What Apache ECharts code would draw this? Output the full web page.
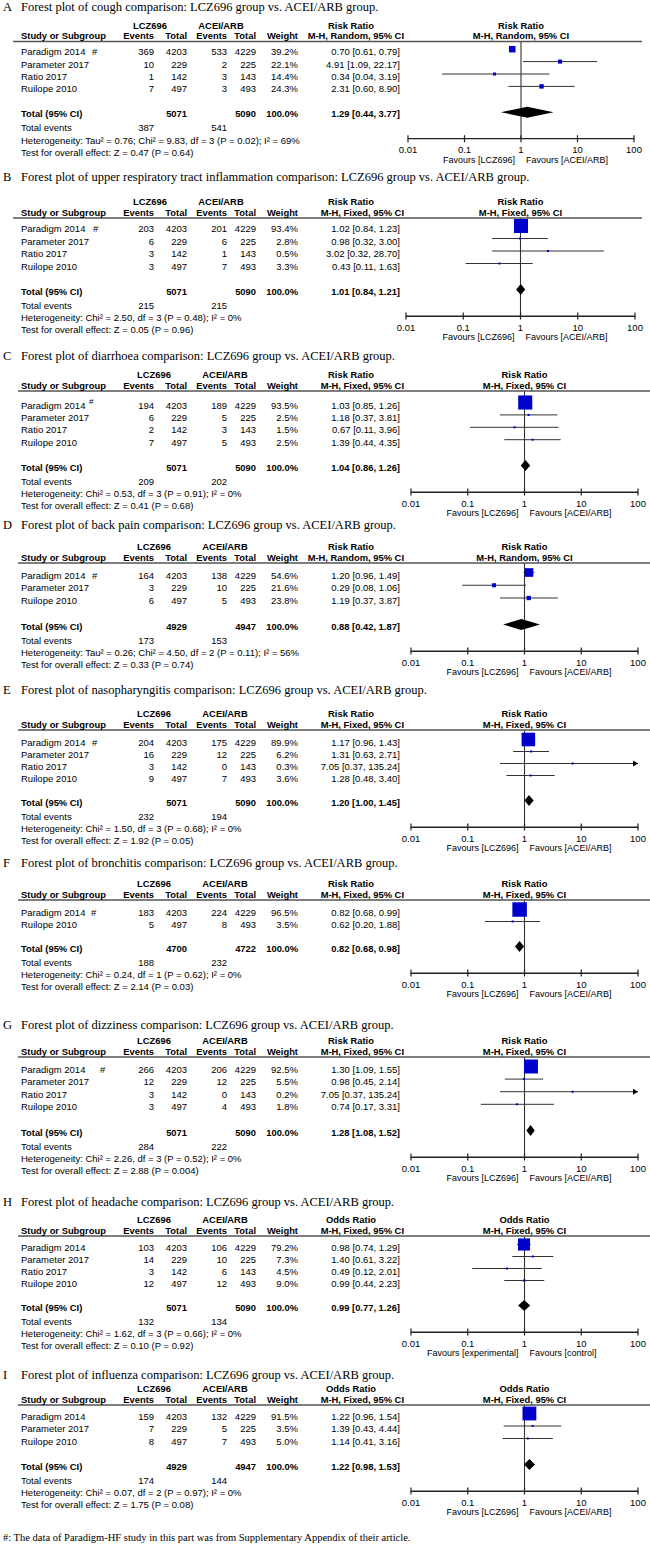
<!DOCTYPE html>
<html><head><meta charset="utf-8">
<script src="https://cdn.jsdelivr.net/npm/echarts@6/dist/echarts.min.js"></script>
<style>html,body{margin:0;padding:0;background:#fff}#c{width:650px;height:1552px}</style>
</head><body><div id="c"></div>
<script>
// ---------------- DATA ----------------
const panelLetters = ['A','B','C','D','E','F','G','H','I'];
const outcomes = ['cough','upper respiratory tract inflammation','diarrhoea','back pain','nasopharyngitis','bronchitis','dizziness','headache','influenza'];
const measures = ['Risk Ratio','Risk Ratio','Risk Ratio','Risk Ratio','Risk Ratio','Risk Ratio','Risk Ratio','Odds Ratio','Odds Ratio'];
const methods = ['M-H, Random, 95% CI','M-H, Fixed, 95% CI','M-H, Fixed, 95% CI','M-H, Random, 95% CI','M-H, Fixed, 95% CI','M-H, Fixed, 95% CI','M-H, Fixed, 95% CI','M-H, Fixed, 95% CI','M-H, Fixed, 95% CI'];
const favoursLeft = ['Favours [LCZ696]','Favours [LCZ696]','Favours [LCZ696]','Favours [LCZ696]','Favours [LCZ696]','Favours [LCZ696]','Favours [LCZ696]','Favours [experimental]','Favours [LCZ696]'];
const favoursRight = ['Favours [ACEI/ARB]','Favours [ACEI/ARB]','Favours [ACEI/ARB]','Favours [ACEI/ARB]','Favours [ACEI/ARB]','Favours [ACEI/ARB]','Favours [ACEI/ARB]','Favours [control]','Favours [ACEI/ARB]'];

const studyNames = [
  ['Paradigm 2014','Parameter 2017','Ratio 2017','Ruilope 2010'],
  ['Paradigm 2014','Parameter 2017','Ratio 2017','Ruilope 2010'],
  ['Paradigm 2014','Parameter 2017','Ratio 2017','Ruilope 2010'],
  ['Paradigm 2014','Parameter 2017','Ruilope 2010'],
  ['Paradigm 2014','Parameter 2017','Ratio 2017','Ruilope 2010'],
  ['Paradigm 2014','Ruilope 2010'],
  ['Paradigm 2014','Parameter 2017','Ratio 2017','Ruilope 2010'],
  ['Paradigm 2014','Parameter 2017','Ratio 2017','Ruilope 2010'],
  ['Paradigm 2014','Parameter 2017','Ruilope 2010']
];
const expEvents = [[369,10,1,7],[203,6,3,3],[194,6,2,7],[164,3,6],[204,16,3,9],[183,5],[266,12,3,3],[103,14,3,12],[159,7,8]];
const expTotals = [[4203,229,142,497],[4203,229,142,497],[4203,229,142,497],[4203,229,497],[4203,229,142,497],[4203,497],[4203,229,142,497],[4203,229,142,497],[4203,229,497]];
const ctlEvents = [[533,2,3,3],[201,6,1,7],[189,5,3,5],[138,10,5],[175,12,0,7],[224,8],[206,12,0,4],[106,10,6,12],[132,5,7]];
const ctlTotals = [[4229,225,143,493],[4229,225,143,493],[4229,225,143,493],[4229,225,493],[4229,225,143,493],[4229,493],[4229,225,143,493],[4229,225,143,493],[4229,225,493]];
const weights = [[39.2,22.1,14.4,24.3],[93.4,2.8,0.5,3.3],[93.5,2.5,1.5,2.5],[54.6,21.6,23.8],[89.9,6.2,0.3,3.6],[96.5,3.5],[92.5,5.5,0.2,1.8],[79.2,7.3,4.5,9.0],[91.5,3.5,5.0]];
const ratios = [[0.70,4.91,0.34,2.31],[1.02,0.98,3.02,0.43],[1.03,1.18,0.67,1.39],[1.20,0.29,1.19],[1.17,1.31,7.05,1.28],[0.82,0.62],[1.30,0.98,7.05,0.74],[0.98,1.40,0.49,0.99],[1.22,1.39,1.14]];
const lowerCI = [[0.61,1.09,0.04,0.60],[0.84,0.32,0.32,0.11],[0.85,0.37,0.11,0.44],[0.96,0.08,0.37],[0.96,0.63,0.37,0.48],[0.68,0.20],[1.09,0.45,0.37,0.17],[0.74,0.61,0.12,0.44],[0.96,0.43,0.41]];
const upperCI = [[0.79,22.17,3.19,8.90],[1.23,3.00,28.70,1.63],[1.26,3.81,3.96,4.35],[1.49,1.06,3.87],[1.43,2.71,135.24,3.40],[0.99,1.88],[1.55,2.14,135.24,3.31],[1.29,3.22,2.01,2.23],[1.54,4.44,3.16]];
const pooledExpTotal = [5071,5071,5071,4929,5071,4700,5071,5071,4929];
const pooledCtlTotal = [5090,5090,5090,4947,5090,4722,5090,5090,4947];
const pooledRatio = [1.29,1.01,1.04,0.88,1.20,0.82,1.28,0.99,1.22];
const pooledLower = [0.44,0.84,0.86,0.42,1.00,0.68,1.08,0.77,0.98];
const pooledUpper = [3.77,1.21,1.26,1.87,1.45,0.98,1.52,1.26,1.53];
const totalExpEvents = [387,215,209,173,232,188,284,132,174];
const totalCtlEvents = [541,215,202,153,194,232,222,134,144];
const heterogeneity = [
  'Heterogeneity: Tau\u00b2 = 0.76; Chi\u00b2 = 9.83, df = 3 (P = 0.02); I\u00b2 = 69%',
  'Heterogeneity: Chi\u00b2 = 2.50, df = 3 (P = 0.48); I\u00b2 = 0%',
  'Heterogeneity: Chi\u00b2 = 0.53, df = 3 (P = 0.91); I\u00b2 = 0%',
  'Heterogeneity: Tau\u00b2 = 0.26; Chi\u00b2 = 4.50, df = 2 (P = 0.11); I\u00b2 = 56%',
  'Heterogeneity: Chi\u00b2 = 1.50, df = 3 (P = 0.68); I\u00b2 = 0%',
  'Heterogeneity: Chi\u00b2 = 0.24, df = 1 (P = 0.62); I\u00b2 = 0%',
  'Heterogeneity: Chi\u00b2 = 2.26, df = 3 (P = 0.52); I\u00b2 = 0%',
  'Heterogeneity: Chi\u00b2 = 1.62, df = 3 (P = 0.66); I\u00b2 = 0%',
  'Heterogeneity: Chi\u00b2 = 0.07, df = 2 (P = 0.97); I\u00b2 = 0%'
];
const overallEffect = [
  'Test for overall effect: Z = 0.47 (P = 0.64)',
  'Test for overall effect: Z = 0.05 (P = 0.96)',
  'Test for overall effect: Z = 0.41 (P = 0.68)',
  'Test for overall effect: Z = 0.33 (P = 0.74)',
  'Test for overall effect: Z = 1.92 (P = 0.05)',
  'Test for overall effect: Z = 2.14 (P = 0.03)',
  'Test for overall effect: Z = 2.88 (P = 0.004)',
  'Test for overall effect: Z = 0.10 (P = 0.92)',
  'Test for overall effect: Z = 1.75 (P = 0.08)'
];
const tickValues = [0.01, 0.1, 1, 10, 100];
const tickLabels = ['0.01', '0.1', '1', '10', '100'];
const footnote = '#: The data of Paradigm-HF study in this part was from Supplementary Appendix of their article.';

// ---------------- LAYOUT ----------------
const layouts = [
  {titleY:7,    lineY:41.5, row0:51.7, step:12.4, ax:[408,634], lineX:[13,642], hashX:92, lcz:150, ace:221},
  {titleY:177,  lineY:218,  row0:228.5,step:12.5, ax:[406,635], lineX:[13,642], hashX:93, lcz:150, ace:221},
  {titleY:356,  lineY:391,  row0:405,  step:12.4, ax:[411,638], lineX:[18,650], hashX:89, hashUp:true, lcz:154, ace:225},
  {titleY:525,  lineY:563,  row0:575,  step:12.75,ax:[411,638], lineX:[18,650], hashX:92, lcz:154, ace:225},
  {titleY:690,  lineY:730,  row0:742,  step:12.0, ax:[411,638], lineX:[18,650], hashX:92, lcz:154, ace:225},
  {titleY:863,  lineY:900,  row0:912,  step:12.0, ax:[411,638], lineX:[18,650], hashX:91, lcz:154, ace:225},
  {titleY:1025, lineY:1057, row0:1069, step:12.6, ax:[411,638], lineX:[18,650], hashX:100, lcz:154, ace:225},
  {titleY:1202, lineY:1236, row0:1247, step:12.0, ax:[411,638], lineX:[18,650], hashX:null, lcz:154, ace:225},
  {titleY:1375, lineY:1405, row0:1416, step:12.5, ax:[411,638], lineX:[18,650], hashX:null, lcz:154, ace:225}
];
const cols = {study:21, e1:154, t1:187, e2:227, t2:256, w:298, ci:400, mhR:404, measC:351};
const SANS = '"Liberation Sans", Arial, sans-serif';
const SERIF = '"Liberation Serif", "Times New Roman", serif';
const FS = 9.5;
const FSB = 9.4;
const MARK_DY = -2.5;
const DIAMOND_H = 5.5;
const TICK_HALF = 3.5;
const BOX_BLUE = '#0000cc';
const LINE_C = '#333';
const AXIS_C = '#222';

const graphics = [];
function txt(x, y, text, opt) {
  opt = opt || {};
  const a = opt.align || 'left';
  graphics.push({type:'text', x:x, y:y, silent:true, z:10,
    style:{text:String(text), fill:'#000',
      font:(opt.bold ? 'bold ' : '') + (opt.size || (opt.bold ? FSB : FS)) + 'px ' + (opt.family || SANS),
      textAlign:a, align:a, textVerticalAlign:'middle', verticalAlign:'middle'}});
}
function hline(x1, y, x2, color, w) {
  graphics.push({type:'line', silent:true, z:5, shape:{x1:x1, y1:y, x2:x2, y2:y}, style:{stroke:color, lineWidth:w}});
}
function fmtTick(v) {
  const k = Math.round(Math.log10(v));
  const i = tickValues.findIndex(t => Math.round(Math.log10(t)) === k);
  return i >= 0 ? tickLabels[i] : '';
}

const grids = [], xAxes = [], yAxes = [], series = [];

panelLetters.forEach((letter, p) => {
  const lay = layouts[p];
  const c = cols;
  const n = studyNames[p].length;
  const lineY = lay.lineY;
  const totalIdx = n + 1;
  const rowY = r => lay.row0 + r * lay.step;
  const totalY = rowY(totalIdx);
  const axisY = totalY + 25;
  const plotC = (lay.ax[0] + lay.ax[1]) / 2;

  // title
  txt(3, lay.titleY, letter, {family:SERIF, size:12.5});
  txt(21, lay.titleY, 'Forest plot of ' + outcomes[p] + ' comparison: LCZ696 group vs. ACEI/ARB group.', {family:SERIF, size:12.5});

  // headers
  const h1 = lineY - 16.5, h2 = lineY - 6;
  txt(lay.lcz, h1, 'LCZ696', {bold:true, align:'center'});
  txt(lay.ace, h1, 'ACEI/ARB', {bold:true, align:'center'});
  txt(c.measC, h1, measures[p], {bold:true, align:'center'});
  txt(plotC, h1, measures[p], {bold:true, align:'center'});
  txt(c.study, h2, 'Study or Subgroup', {bold:true});
  txt(c.e1, h2, 'Events', {bold:true, align:'right'});
  txt(c.t1, h2, 'Total', {bold:true, align:'right'});
  txt(c.e2, h2, 'Events', {bold:true, align:'right'});
  txt(c.t2, h2, 'Total', {bold:true, align:'right'});
  txt(c.w, h2, 'Weight', {bold:true, align:'right'});
  txt(c.mhR, h2, methods[p], {bold:true, align:'right'});
  txt(plotC, h2, methods[p], {bold:true, align:'center'});
  hline(lay.lineX[0], lineY, lay.lineX[1], '#555', 1.3);

  // study rows
  studyNames[p].forEach((name, i) => {
    const y = rowY(i);
    txt(c.study, y, name);
    if (i === 0 && lay.hashX !== null) {
      if (lay.hashUp) txt(lay.hashX, y - 4, '#', {size:8});
      else txt(lay.hashX, y, '#');
    }
    txt(c.e1, y, expEvents[p][i], {align:'right'});
    txt(c.t1, y, expTotals[p][i], {align:'right'});
    txt(c.e2, y, ctlEvents[p][i], {align:'right'});
    txt(c.t2, y, ctlTotals[p][i], {align:'right'});
    txt(c.w, y, weights[p][i].toFixed(1) + '%', {align:'right'});
    txt(c.ci, y, ratios[p][i].toFixed(2) + ' [' + lowerCI[p][i].toFixed(2) + ', ' + upperCI[p][i].toFixed(2) + ']', {align:'right'});
  });
  // totals
  txt(c.study, totalY, 'Total (95% CI)', {bold:true});
  txt(c.t1, totalY, pooledExpTotal[p], {bold:true, align:'right'});
  txt(c.t2, totalY, pooledCtlTotal[p], {bold:true, align:'right'});
  txt(c.w, totalY, '100.0%', {bold:true, align:'right'});
  txt(c.ci, totalY, pooledRatio[p].toFixed(2) + ' [' + pooledLower[p].toFixed(2) + ', ' + pooledUpper[p].toFixed(2) + ']', {bold:true, align:'right'});
  txt(c.study, totalY + 14, 'Total events');
  txt(c.e1, totalY + 14, totalExpEvents[p], {align:'right'});
  txt(c.e2, totalY + 14, totalCtlEvents[p], {align:'right'});
  txt(c.study, totalY + 26.5, heterogeneity[p]);
  txt(c.study, totalY + 38.5, overallEffect[p]);
  // favours
  txt(plotC - 6, axisY + 21, favoursLeft[p], {align:'right', size:9});
  txt(plotC + 5, axisY + 21, favoursRight[p], {size:9});

  // grid & axes
  grids.push({left:lay.ax[0], top:lineY, width:lay.ax[1] - lay.ax[0], height:axisY - lineY, containLabel:false});
  xAxes.push({type:'log', logBase:10, min:tickValues[0], max:tickValues[tickValues.length - 1], gridIndex:p,
    position:'bottom', splitLine:{show:false}, minorTick:{show:false}, splitNumber:4,
    axisLine:{show:true, onZero:false, lineStyle:{color:AXIS_C, width:1.2}},
    axisTick:{show:false},
    axisLabel:{show:true, margin:6, color:'#000', fontSize:FS, fontFamily:SANS, formatter:fmtTick, showMinLabel:true, showMaxLabel:true}
  });
  yAxes.push({type:'value', gridIndex:p, inverse:true, show:false,
    min:(lineY - lay.row0) / lay.step, max:(axisY - lay.row0) / lay.step});

  // axis baseline and decade ticks (both sides), through the log scale
  series.push({type:'custom', xAxisIndex:p, yAxisIndex:p, silent:true, clip:false, z:3,
    data:tickValues.map(v => [v, 0]),
    renderItem(params, api) {
      const cs = params.coordSys;
      const yb = cs.y + cs.height;
      const x = api.coord([api.value(0), 0])[0];
      const ch = [{type:'line', shape:{x1:x, y1:yb - TICK_HALF, x2:x, y2:yb + TICK_HALF}, style:{stroke:AXIS_C, lineWidth:1.2}}];
      if (params.dataIndex === 0) {
        const xEnd = api.coord([tickValues[tickValues.length - 1], 0])[0];
        ch.push({type:'line', shape:{x1:x, y1:yb, x2:xEnd, y2:yb}, style:{stroke:AXIS_C, lineWidth:1.2}});
      }
      return {type:'group', children:ch};
    }});
  // line of no effect
  series.push({type:'custom', xAxisIndex:p, yAxisIndex:p, silent:true, clip:false,
    data:[[tickValues[2], 0]],
    renderItem(params, api) {
      const cs = params.coordSys;
      const x = api.coord([api.value(0), 0])[0];
      return {type:'line', shape:{x1:x, y1:cs.y, x2:x, y2:cs.y + cs.height}, style:{stroke:LINE_C, lineWidth:1.1}};
    }});
  // studies
  series.push({type:'custom', xAxisIndex:p, yAxisIndex:p, silent:true, clip:false,
    data:ratios[p].map((v, i) => [v, i, lowerCI[p][i], upperCI[p][i], weights[p][i]]),
    encode:{x:0, y:1},
    renderItem(params, api) {
      const r = api.value(1);
      const est = api.coord([api.value(0), r]);
      const up = api.value(3);
      const upC = Math.min(up, tickValues[tickValues.length - 1]);
      const lo = api.coord([api.value(2), r]);
      const hi = api.coord([upC, r]);
      const y = est[1] + MARK_DY;
      const s = Math.max(2, 0.14 * api.value(4) + 1);
      const children = [
        {type:'line', shape:{x1:lo[0], y1:y, x2:hi[0], y2:y}, style:{stroke:LINE_C, lineWidth:1}},
        {type:'rect', shape:{x:est[0] - s / 2, y:y - s / 2, width:s, height:s}, style:{fill:BOX_BLUE}}
      ];
      if (up > upC) children.push({type:'polygon', shape:{points:[[hi[0], y], [hi[0] - 5, y - 3], [hi[0] - 5, y + 3]]}, style:{fill:'#000'}});
      return {type:'group', children:children};
    }});
  // pooled diamond
  series.push({type:'custom', xAxisIndex:p, yAxisIndex:p, silent:true, clip:false,
    data:[[pooledRatio[p], totalIdx, pooledLower[p], pooledUpper[p]]],
    encode:{x:0, y:1},
    renderItem(params, api) {
      const r = api.value(1);
      const cpt = api.coord([api.value(0), r]);
      const l = api.coord([api.value(2), r]);
      const h = api.coord([api.value(3), r]);
      const y = cpt[1] + MARK_DY + 1;
      return {type:'polygon', shape:{points:[[l[0], y], [cpt[0], y - DIAMOND_H], [h[0], y], [cpt[0], y + DIAMOND_H]]}, style:{fill:'#000'}};
    }});
});

txt(3, 1537, footnote, {family:SERIF, size:10.5});

const chart = echarts.init(document.getElementById('c'), null, {renderer:'svg', width:650, height:1552});
chart.setOption({
  animation:false,
  backgroundColor:'#fff',
  grid:grids, xAxis:xAxes, yAxis:yAxes, series:series,
  graphic:{elements:graphics}
});
</script>
</body></html>
